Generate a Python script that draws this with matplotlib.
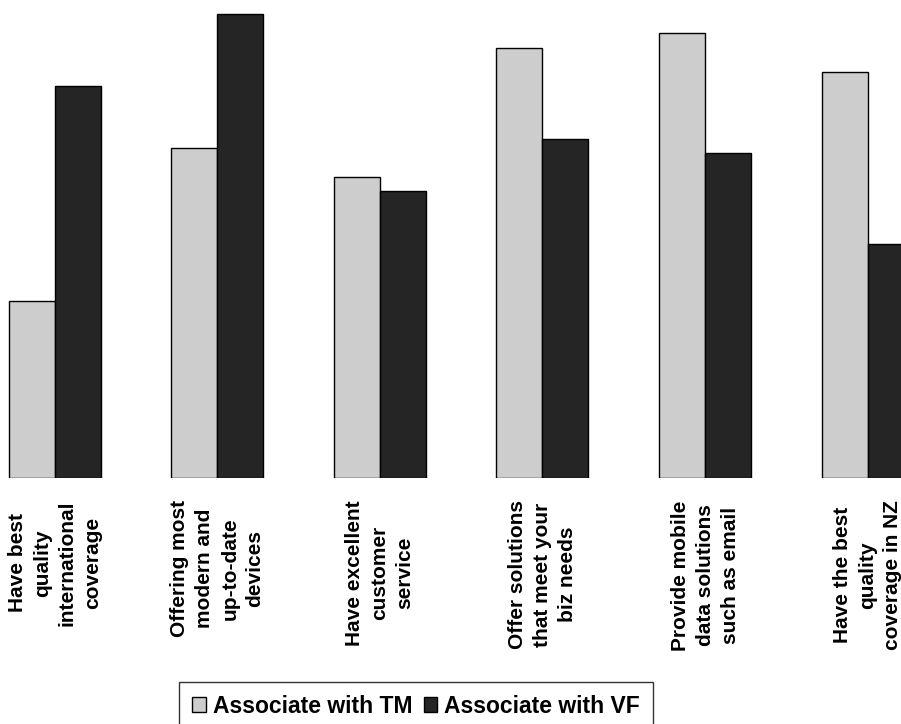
import numpy as np
from matplotlib import pyplot as plt

plt.rcParams["font.family"] = ["Liberation Sans", "DejaVu Sans"]

categories = [
    "Have best\nquality\ninternational\ncoverage",
    "Offering most\nmodern and\nup-to-date\ndevices",
    "Have excellent\ncustomer\nservice",
    "Offer solutions\nthat meet your\nbiz needs",
    "Provide mobile\ndata solutions\nsuch as email",
    "Have the best\nquality\ncoverage in NZ",
]
tm_values = [37, 69, 63, 90, 93, 85]
vf_values = [82, 97, 60, 71, 68, 49]
series_names = ["Associate with TM", "Associate with VF"]


def main():
    fig = plt.figure(figsize=(9.01, 7.24), dpi=100)
    ax = fig.add_axes([0, 1 - 478 / 724, 1, 478 / 724])

    x = np.arange(len(categories))
    width = 0.283
    ax.bar(x - width / 2, tm_values, width, color="#cdcdcd",
           edgecolor="black", linewidth=1.0, label=series_names[0])
    ax.bar(x + width / 2, vf_values, width, color="#252525",
           edgecolor="black", linewidth=1.0, label=series_names[1])

    ax.set_xlim(-0.338, 5.206)
    ax.set_ylim(0, 100)
    ax.set_yticks([])
    ax.set_xticks(x)
    ax.set_xticklabels(categories, rotation=90, fontsize=15,
                       fontweight="bold", multialignment="center",
                       linespacing=1.4)
    ax.tick_params(axis="x", length=0, pad=16)
    for side in ax.spines.values():
        side.set_visible(False)

    leg = fig.legend(loc="upper center", bbox_to_anchor=(416 / 901, 1 - 682 / 724),
                     ncol=2, frameon=True, fancybox=False, edgecolor="black",
                     prop={"weight": "bold", "size": 16.5},
                     handlelength=0.6, handleheight=0.6, handletextpad=0.3,
                     columnspacing=0.5, borderpad=0.55, borderaxespad=0)
    leg.get_frame().set_linewidth(1.0)

    fig.savefig("out.png", dpi=100, facecolor="white")
    plt.close(fig)


if __name__ == "__main__":
    main()
